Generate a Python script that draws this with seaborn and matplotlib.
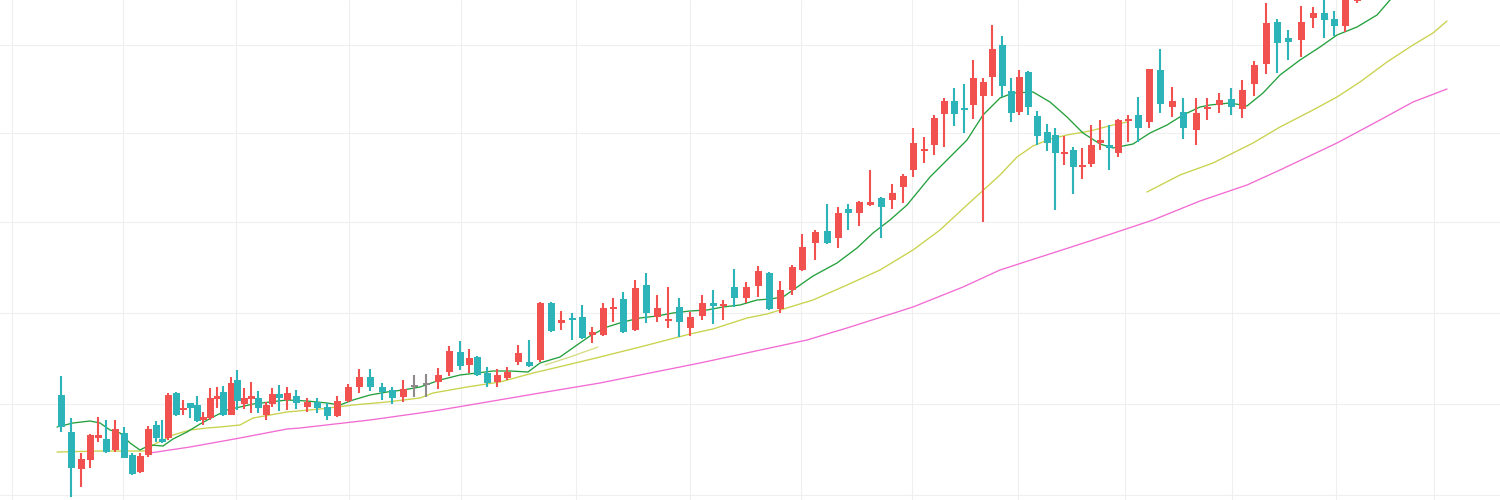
import numpy as np
import pandas as pd
import matplotlib
matplotlib.use("Agg")
import matplotlib.pyplot as plt
import seaborn as sns

# ---- candle data (time position, open, high, low, close) ----
t = [61, 71, 81, 90, 98, 106, 115, 124, 132, 140, 148, 156, 162, 168, 176, 183, 190, 197, 203, 210,
     217, 223, 231, 237, 244, 251, 258, 266, 272, 279, 287, 296, 307, 317, 327, 337, 348, 359, 370, 382,
     392, 403, 414, 426, 438, 449, 460, 469, 477, 487, 497, 507, 518, 529, 540, 551, 561, 572, 582, 592,
     603, 613, 623, 635, 646, 657, 668, 679, 690, 702, 713, 723, 734, 746, 758, 769, 780, 792, 802, 815,
     827, 838, 848, 859, 870, 881, 892, 903, 913, 924, 934, 944, 954, 964, 973, 983, 992, 1002, 1011, 1019,
     1028, 1037, 1047, 1055, 1064, 1073, 1082, 1091, 1100, 1109, 1118, 1128, 1138, 1149, 1160, 1172, 1183, 1196, 1207, 1219,
     1231, 1242, 1254, 1266, 1277, 1288, 1301, 1313, 1324, 1334, 1345, 1357]
open_ = [105, 68, 31, 40, 62, 61, 50, 67, 45, 28, 45, 75, 61, 62, 107, 90, 97, 95, 80, 82,
         101, 108, 85, 120, 96, 101, 102, 85, 96, 106, 100, 104, 93, 98, 93, 84, 99, 113, 123, 113,
         110, 103, 113, 115, 118, 128, 148, 135, 143, 127, 118, 122, 138, 138, 140, 197, 177, 182, 183, 165,
         165, 191, 201, 170, 215, 183, 179, 193, 172, 184, 197, 194, 213, 202, 214, 227, 191, 210, 230, 257,
         269, 262, 291, 287, 295, 302, 300, 313, 330, 349, 355, 386, 399, 392, 395, 404, 423, 455, 409, 388,
         428, 384, 368, 365, 346, 350, 333, 336, 357, 355, 347, 379, 385, 378, 430, 393, 388, 370, 391, 395,
         401, 391, 416, 436, 478, 462, 460, 482, 487, 481, 474, 499]
high = [124, 82, 47, 66, 83, 80, 80, 73, 47, 47, 74, 79, 80, 107, 108, 100, 97, 104, 88, 112,
        113, 114, 123, 130, 112, 118, 109, 98, 112, 115, 113, 110, 102, 102, 97, 104, 116, 131, 131, 117,
        113, 120, 125, 126, 132, 154, 159, 151, 144, 133, 131, 133, 155, 160, 198, 198, 189, 187, 195, 173,
        197, 202, 208, 220, 227, 205, 213, 202, 188, 205, 210, 200, 231, 218, 234, 228, 219, 235, 266, 270,
        296, 293, 296, 299, 330, 303, 316, 326, 372, 363, 385, 402, 412, 416, 440, 422, 475, 464, 422, 430,
        429, 389, 376, 372, 364, 353, 352, 375, 380, 375, 381, 385, 403, 431, 451, 413, 402, 402, 402, 407,
        412, 420, 439, 497, 481, 470, 494, 493, 505, 489, 515, 520]
low = [68, 3, 13, 32, 58, 47, 48, 42, 25, 27, 43, 58, 57, 60, 84, 85, 82, 78, 75, 80,
       92, 84, 85, 90, 91, 87, 87, 80, 93, 89, 90, 91, 88, 87, 80, 83, 98, 107, 109, 100,
       96, 98, 103, 103, 111, 124, 130, 127, 124, 113, 113, 120, 135, 133, 138, 168, 170, 160, 161, 157,
       164, 178, 167, 169, 177, 178, 172, 163, 164, 180, 176, 180, 193, 197, 203, 190, 187, 205, 229, 240,
       256, 252, 270, 274, 294, 262, 291, 297, 323, 337, 345, 353, 374, 367, 381, 278, 404, 403, 378, 385,
       385, 355, 349, 290, 335, 306, 321, 333, 350, 330, 343, 358, 358, 372, 387, 383, 361, 355, 380, 387,
       385, 382, 404, 426, 427, 440, 443, 472, 462, 464, 468, 497]
close = [73, 32, 41, 65, 65, 48, 71, 42, 26, 44, 71, 62, 58, 105, 85, 92, 92, 79, 83, 102,
         104, 85, 117, 99, 102, 104, 92, 95, 106, 102, 107, 97, 98, 92, 84, 99, 113, 123, 113, 108,
         102, 111, 113, 115, 125, 149, 134, 142, 125, 117, 125, 128, 147, 134, 197, 169, 180, 180, 162, 168,
         192, 193, 168, 212, 187, 192, 180, 178, 183, 197, 194, 196, 202, 213, 229, 191, 210, 233, 253, 268,
         257, 287, 287, 298, 298, 293, 307, 324, 357, 351, 382, 399, 386, 390, 422, 418, 451, 414, 387, 423,
         393, 364, 357, 347, 348, 333, 335, 355, 360, 352, 380, 381, 372, 431, 396, 399, 372, 387, 393, 400,
         393, 410, 435, 477, 457, 458, 478, 487, 480, 474, 505, 510]

# ---- moving-average lines ----
ma_fast_t = [57, 73, 90, 100, 110, 120, 130, 140, 150, 163, 173, 187, 200, 213, 227, 240, 253, 287, 307, 327,
             340, 353, 370, 387, 403, 420, 440, 460, 477, 493, 510, 528, 540, 560, 577, 590, 607, 623, 640, 657,
             673, 690, 707, 723, 740, 757, 770, 783, 793, 813, 837, 857, 873, 890, 907, 930, 967, 983, 1000, 1013,
             1033, 1050, 1067, 1083, 1100, 1113, 1133, 1150, 1167, 1183, 1200, 1210, 1230, 1247, 1263, 1280, 1300, 1320, 1337, 1357,
             1377, 1390, 1405]
ma_fast_v = [73, 77, 79, 77, 70, 67, 57, 50, 55, 54, 61, 68, 76, 83, 90, 93, 96, 100, 99, 97,
             95, 100, 105, 108, 110, 113, 120, 125, 127, 129, 129, 128, 137, 143, 155, 164, 173, 178, 182, 184,
             187, 189, 190, 193, 195, 200, 201, 203, 210, 224, 237, 252, 267, 280, 295, 323, 360, 385, 402, 407,
             408, 398, 383, 367, 356, 352, 356, 367, 375, 385, 393, 395, 397, 394, 407, 425, 440, 453, 465, 473,
             485, 500, 510]

ma_mid_t1 = [57, 100, 147, 153, 173, 190, 207, 220, 240, 253, 287, 320, 337, 353, 387, 420, 433, 467, 500, 533,
             567, 600, 640, 667, 690, 713, 747, 767, 790, 813, 847, 880, 913, 940, 967, 1000, 1017, 1033, 1050, 1067,
             1090, 1113, 1127]
ma_mid_v1 = [48, 49, 49, 55, 65, 70, 72, 73, 75, 82, 88, 91, 93, 95, 98, 102, 107, 113, 118, 127,
             135, 143, 153, 160, 166, 171, 182, 186, 193, 200, 215, 230, 250, 270, 295, 325, 343, 354, 361, 365,
             369, 375, 378]
ma_mid_t2 = [545, 570, 598]
ma_mid_v2 = [135, 143, 153]
ma_mid_t3 = [1147, 1180, 1213, 1253, 1280, 1313, 1337, 1360, 1387, 1413, 1433, 1447]
ma_mid_v3 = [308, 325, 337, 357, 373, 390, 403, 418, 438, 455, 467, 479]

ma_slow_t = [150, 190, 240, 287, 300, 370, 420, 440, 540, 600, 700, 807, 847, 913, 963, 1000, 1093, 1153, 1200, 1247,
             1280, 1337, 1380, 1413, 1447]
ma_slow_v = [47, 53, 62, 71, 72, 80, 87, 90, 107, 117, 137, 160, 172, 193, 213, 230, 260, 280, 299, 315,
             330, 357, 380, 398, 411]

grid_x = [12, 123, 236, 349, 461, 576, 690, 801, 912, 1018, 1125, 1232, 1336, 1434]
grid_y = [5, 96, 187, 278, 367, 455]

# ---- style ----
sns.set_theme(style="white")
UP = "#f2524f"
DOWN = "#2cb4b8"
FLAT = "#8e8a8a"

fig = plt.figure(figsize=(15, 5), dpi=100)
ax = fig.add_axes([0, 0, 1, 1])
ax.set_xlim(0, 1500)
ax.set_ylim(0, 500)

for gx in grid_x:
    ax.axvline(gx, color="#efefef", lw=0.8, zorder=0)
for gy in grid_y:
    ax.axhline(gy, color="#efefef", lw=0.8, zorder=0)

df = pd.DataFrame({"t": t, "open": open_, "high": high, "low": low, "close": close})
colors = np.where(df["close"] > df["open"], UP, np.where(df["close"] < df["open"], DOWN, FLAT))

lines = [
    (ma_slow_t, ma_slow_v, "#f26bd3"),
    (ma_mid_t1, ma_mid_v1, "#c8d24c"),
    (ma_mid_t2, ma_mid_v2, "#d6dc86"),
    (ma_mid_t3, ma_mid_v3, "#c8d24c"),
    (ma_fast_t, ma_fast_v, "#23a03c"),
]
for lx, ly, c in lines:
    sns.lineplot(x=lx, y=ly, ax=ax, color=c, lw=0.95, sort=False, estimator=None, zorder=2)

ax.vlines(df["t"], df["low"], df["high"], colors=colors, lw=1.5, zorder=3)
bottoms = np.minimum(df["open"], df["close"])
heights = np.maximum(np.abs(df["close"] - df["open"]), 1.8)
ax.bar(df["t"], heights, bottom=bottoms, width=7, color=colors, linewidth=0, zorder=4)

ax.set_xticks([])
ax.set_yticks([])
for s in ax.spines.values():
    s.set_visible(False)

fig.savefig("out.png", dpi=100, facecolor="white")
